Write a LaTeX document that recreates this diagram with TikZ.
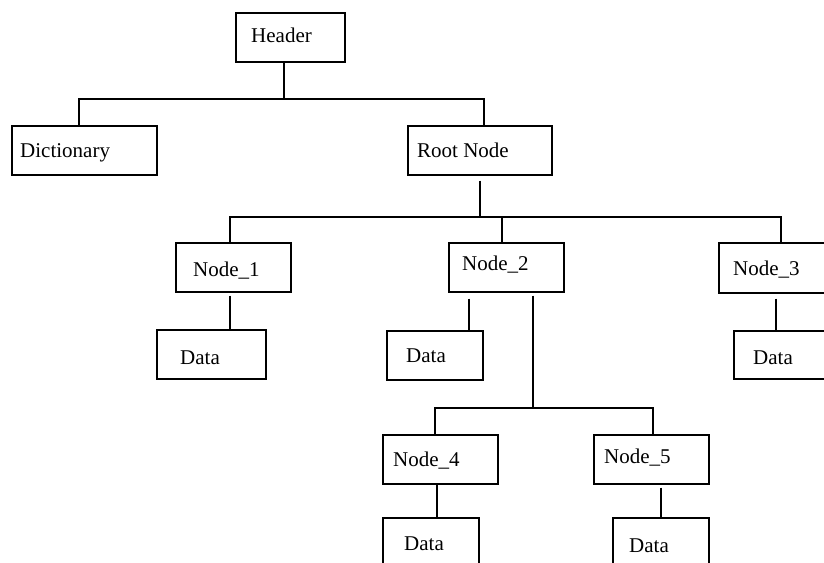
\documentclass[tikz,border=0pt]{standalone}
\usepackage{fontspec}
\setmainfont{Liberation Serif}
\begin{document}
\begin{tikzpicture}[x=1pt,y=-1pt,
  box/.style={draw=black, line width=1.6pt, rectangle, anchor=north west, inner sep=0pt, fill=none},
  lbl/.style={anchor=base west, inner sep=0pt, font=\fontsize{21}{25}\selectfont},
  wire/.style={draw=black, line width=1.5pt}]
\useasboundingbox (0,0) rectangle (824,562);
\clip (0,0) rectangle (824,562);
% boxes
\node[box, minimum width=109pt, minimum height=49pt] (hdr) at (235,12) {};
\node[box, minimum width=145pt, minimum height=49pt] (dict) at (11,125) {};
\node[box, minimum width=144pt, minimum height=49pt] (root) at (407,125) {};
\node[box, minimum width=115pt, minimum height=49pt] (n1) at (175,242) {};
\node[box, minimum width=115pt, minimum height=49pt] (n2) at (448,242) {};
\node[box, minimum width=115pt, minimum height=50pt] (n3) at (718,242) {};
\node[box, minimum width=109pt, minimum height=49pt] (d1) at (156,329) {};
\node[box, minimum width=96pt, minimum height=49pt] (d2) at (386,330) {};
\node[box, minimum width=100pt, minimum height=48pt] (d3) at (733,330) {};
\node[box, minimum width=115pt, minimum height=49pt] (n4) at (382,434) {};
\node[box, minimum width=115pt, minimum height=49pt] (n5) at (593,434) {};
\node[box, minimum width=96pt, minimum height=60pt] (d4) at (382,517) {};
\node[box, minimum width=96pt, minimum height=60pt] (d5) at (612,517) {};
% labels
\node[lbl] (hdrT) at (251,42) {Header};
\node[lbl] (dictT) at (20,157) {Dictionary};
\node[lbl] (rootT) at (417,157) {Root Node};
\node[lbl] (n1T) at (193,276) {Node\_1};
\node[lbl] (n2T) at (462,270) {Node\_2};
\node[lbl] (n3T) at (733,275) {Node\_3};
\node[lbl] (d1T) at (180,364) {Data};
\node[lbl] (d2T) at (406,362) {Data};
\node[lbl] (d3T) at (753,364) {Data};
\node[lbl] (n4T) at (393,466) {Node\_4};
\node[lbl] (n5T) at (604,463) {Node\_5};
\node[lbl] (d4T) at (404,550) {Data};
\node[lbl] (d5T) at (629,552) {Data};
% junction coordinates
\coordinate (jA) at (284,99);
\coordinate (jAl) at (79,99);
\coordinate (jAr) at (484,99);
\coordinate (jB) at (480,217);
\coordinate (jBl) at (230,217);
\coordinate (jBm) at (502,217);
\coordinate (jBr) at (781,217);
\coordinate (jC) at (533,408);
\coordinate (jCl) at (435,408);
\coordinate (jCr) at (653,408);
\coordinate (c1) at (230,0);
\coordinate (c2) at (469,0);
\coordinate (c3) at (776,0);
\coordinate (c4) at (437,0);
\coordinate (c5) at (661,0);
% connectors
\draw[wire] (hdr.south -| jA) -- (jA);
\draw[wire] (jAl |- dict.north) -- (jAl) -- (jAr) -- (jAr |- root.north);
\draw[wire, shorten <=5pt] (root.south -| jB) -- (jB);
\draw[wire] (jBl |- n1.north) -- (jBl) -- (jBr) -- (jBr |- n3.north);
\draw[wire] (jBm) -- (jBm |- n2.north);
\draw[wire, shorten <=3pt] (n1.south -| c1) -- (c1 |- d1.north);
\draw[wire, shorten <=6pt] (n2.south -| c2) -- (c2 |- d2.north);
\draw[wire, shorten <=5pt] (n3.south -| c3) -- (c3 |- d3.north);
\draw[wire, shorten <=3pt] (n2.south -| jC) -- (jC);
\draw[wire] (jCl |- n4.north) -- (jCl) -- (jCr) -- (jCr |- n5.north);
\draw[wire] (n4.south -| c4) -- (c4 |- d4.north);
\draw[wire, shorten <=3pt] (n5.south -| c5) -- (c5 |- d5.north);
\end{tikzpicture}
\end{document}
